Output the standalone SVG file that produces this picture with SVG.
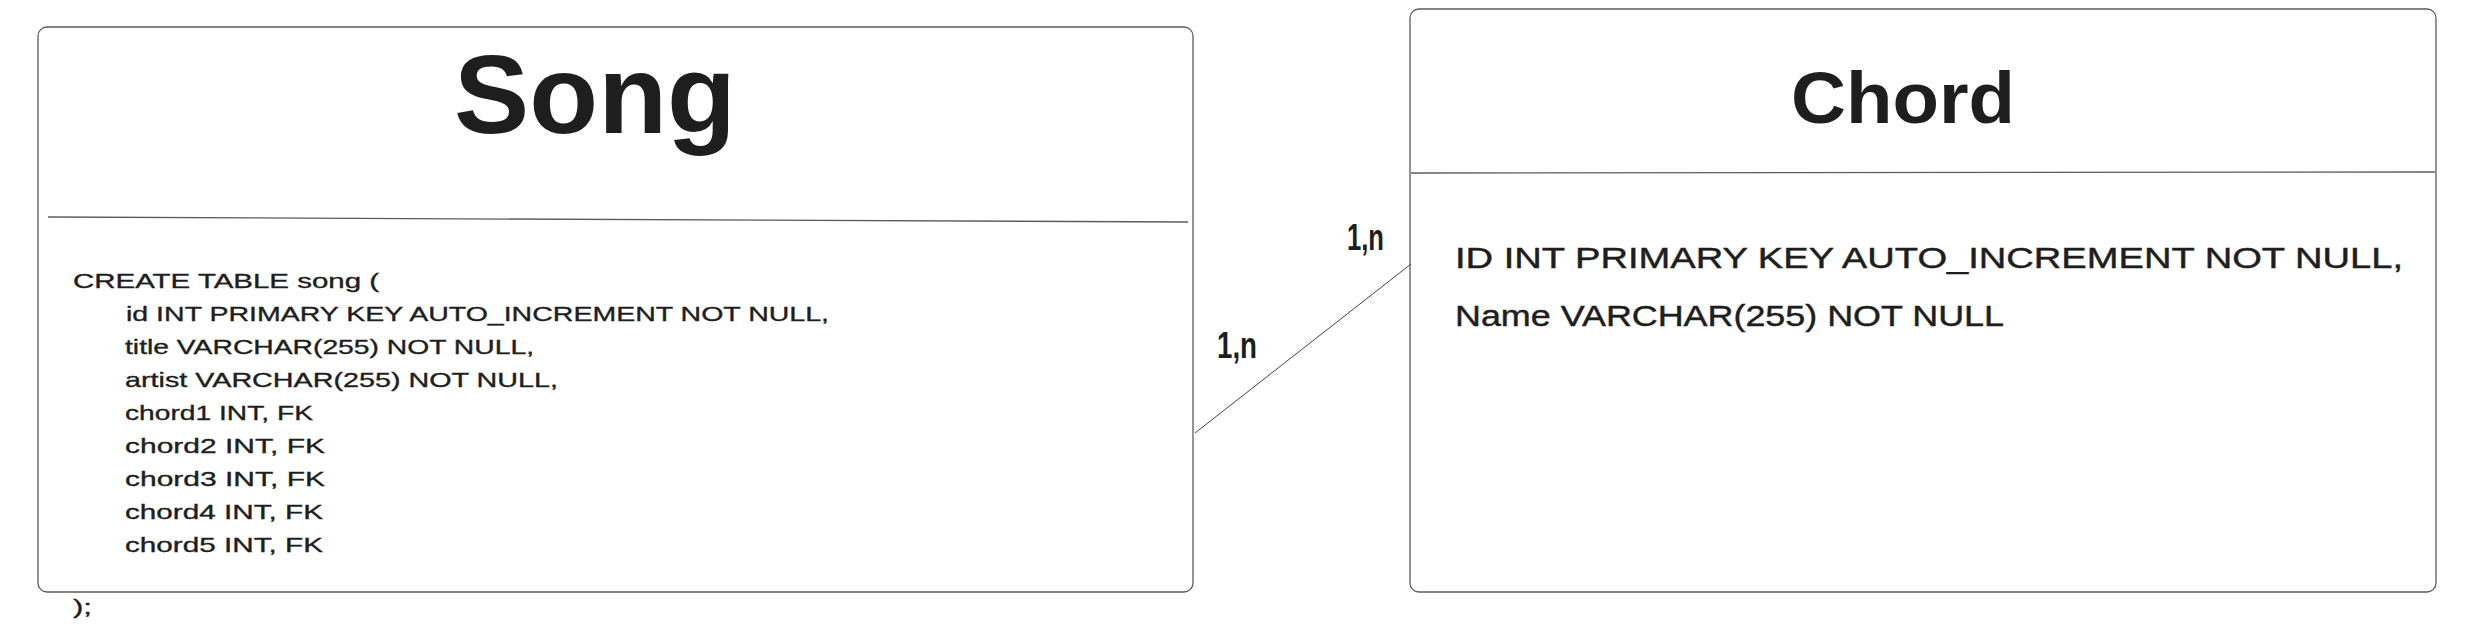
<svg xmlns="http://www.w3.org/2000/svg" width="2492" height="642" viewBox="0 0 2492 642">
<style>
.box{fill:#ffffff;stroke:#5c5c5c;stroke-width:1.3}
.div{stroke:#5c5c5c;stroke-width:1.3;fill:none}
.t{font-family:"Liberation Sans",Arial,sans-serif;fill:#1e1e1e}
.title{font-size:112px;font-weight:bold}
.ctitle{font-size:72px;font-weight:bold}
.body{font-size:21px;stroke:#1e1e1e;stroke-width:0.35}
.cbody{font-size:30px;stroke:#1e1e1e;stroke-width:0.45}
.lbl{font-size:36px;font-weight:bold}
.conn{stroke:#444;stroke-width:1;fill:none}
</style>
<rect width="2492" height="642" fill="#ffffff"/>
<g id="song">
<rect class="box" x="38" y="27" width="1155" height="565" rx="9"/>
<line class="div" x1="48" y1="217" x2="1188" y2="222"/>
<text class="t title" x="454" y="133" textLength="282" lengthAdjust="spacingAndGlyphs">Song</text>
<text class="t body" x="73" y="288" textLength="306" lengthAdjust="spacingAndGlyphs">CREATE TABLE song (</text>
<text class="t body" x="126" y="321" textLength="703" lengthAdjust="spacingAndGlyphs">id INT PRIMARY KEY AUTO_INCREMENT NOT NULL,</text>
<text class="t body" x="125" y="354" textLength="409" lengthAdjust="spacingAndGlyphs">title VARCHAR(255) NOT NULL,</text>
<text class="t body" x="125" y="387" textLength="433" lengthAdjust="spacingAndGlyphs">artist VARCHAR(255) NOT NULL,</text>
<text class="t body" x="125" y="420" textLength="188" lengthAdjust="spacingAndGlyphs">chord1 INT, FK</text>
<text class="t body" x="125" y="453" textLength="200" lengthAdjust="spacingAndGlyphs">chord2 INT, FK</text>
<text class="t body" x="125" y="486" textLength="200" lengthAdjust="spacingAndGlyphs">chord3 INT, FK</text>
<text class="t body" x="125" y="519" textLength="198" lengthAdjust="spacingAndGlyphs">chord4 INT, FK</text>
<text class="t body" x="125" y="552" textLength="198" lengthAdjust="spacingAndGlyphs">chord5 INT, FK</text>
<text class="t body" x="73" y="614" textLength="19" lengthAdjust="spacingAndGlyphs">);</text>
</g>
<g id="chord">
<rect class="box" x="1410" y="9" width="1026" height="583" rx="9"/>
<line class="div" x1="1411" y1="173" x2="2435" y2="172"/>
<text class="t ctitle" x="1791" y="123" textLength="224" lengthAdjust="spacingAndGlyphs">Chord</text>
<text class="t cbody" x="1455" y="268" textLength="948" lengthAdjust="spacingAndGlyphs">ID INT PRIMARY KEY AUTO_INCREMENT NOT NULL,</text>
<text class="t cbody" x="1455" y="326" textLength="549" lengthAdjust="spacingAndGlyphs">Name VARCHAR(255) NOT NULL</text>
</g>
<g id="connectors">
<line class="conn" x1="1195" y1="433" x2="1411" y2="264"/>
<text class="t lbl" x="1347" y="250" textLength="37" lengthAdjust="spacingAndGlyphs">1,n</text>
<text class="t lbl" x="1217" y="358" textLength="40" lengthAdjust="spacingAndGlyphs">1,n</text>
</g>
</svg>
